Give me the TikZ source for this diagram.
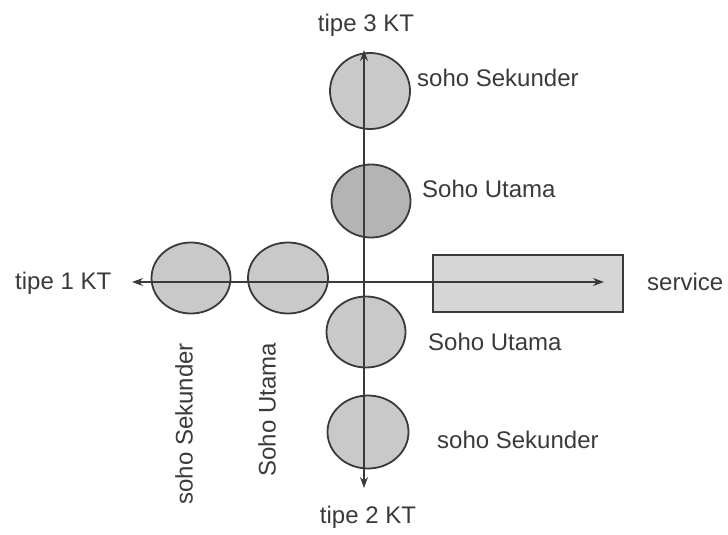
\documentclass[tikz,border=0pt]{standalone}
\usepackage{fontspec}
\setmainfont{Liberation Sans}
\usetikzlibrary{shapes.geometric,arrows.meta}
\definecolor{ink}{HTML}{3A3A3A}
\definecolor{dot}{HTML}{C9C9C9}
\definecolor{dotdark}{HTML}{B4B4B4}
\definecolor{bar}{HTML}{D6D6D6}
\tikzset{
  blob/.style={ellipse, draw=ink, line width=1.8pt, fill=dot, inner sep=0pt},
  lbl/.style={text=ink, font=\fontsize{24}{28}\selectfont, inner sep=0pt},
  axis/.style={draw=ink, line width=1.1pt, -{Stealth[length=11pt,width=8pt]}},
}
\begin{document}
\begin{tikzpicture}[x=1pt,y=-1pt]
\useasboundingbox (0,0) rectangle (728,535);
\fill[white] (0,0) rectangle (728,535);

% service bar
\node[draw=ink, line width=1.6pt, fill=bar, minimum width=190pt, minimum height=57pt, inner sep=0pt] (svc) at (528,283.5) {};

% circles on the vertical axis
\node[blob, minimum width=80pt, minimum height=76pt] (v3) at (370,91) {};
\node[blob, fill=dotdark, minimum width=79pt, minimum height=73pt] (v2) at (371,201) {};
\node[blob, minimum width=79pt, minimum height=71pt] (v1) at (366,332) {};
\node[blob, minimum width=81pt, minimum height=73pt] (v0) at (368,432) {};

% circles on the horizontal axis
\node[blob, minimum width=79pt, minimum height=71pt] (h0) at (191,278) {};
\node[blob, minimum width=80pt, minimum height=71pt] (h1) at (288,278) {};

% axes
\coordinate (o) at (364,282);
\coordinate (top) at (364,50);
\coordinate (bot) at (364,488);
\coordinate (lft) at (132,282);
\coordinate (rgt) at (604,282);
\draw[axis] (o) -- (top);
\draw[axis] (o) -- (bot);
\draw[axis] (o) -- (lft);
\draw[axis] (o) -- (rgt);

% labels
\node[lbl] (t3) at (366,25) {tipe 3 KT};
\node[lbl] (t2) at (368,517) {tipe 2 KT};
\node[lbl, anchor=west] (t1) at (15,283) {tipe 1 KT};
\node[lbl, anchor=west] (sv) at (647,282) {service};
\node[lbl, anchor=west] (a3) at (417,78) {soho Sekunder};
\node[lbl, anchor=west] (a2) at (422,189) {Soho Utama};
\node[lbl, anchor=west] (a1) at (428,342) {Soho Utama};
\node[lbl, anchor=west] (a0) at (437,440) {soho Sekunder};
\node[lbl, rotate=90, anchor=east] (b0) at (184,343) {soho Sekunder};
\node[lbl, rotate=90, anchor=east] (b1) at (267,343) {Soho Utama};
\end{tikzpicture}
\end{document}
